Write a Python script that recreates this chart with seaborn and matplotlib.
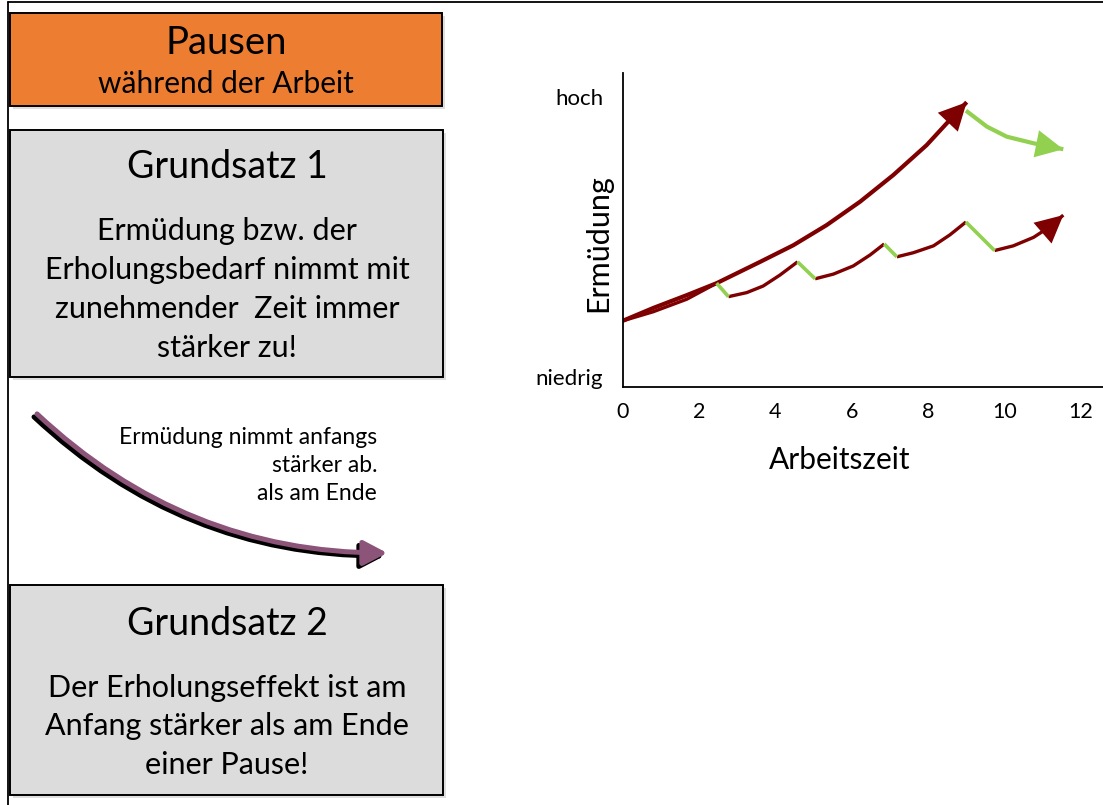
import seaborn as sns
from matplotlib import pyplot as plt
from matplotlib.patches import Rectangle, FancyArrowPatch

# Ermüdung ohne Pause (durchgehende Arbeit)
ohne_pause_x = [0.0, 0.80, 1.68, 2.46, 3.60, 4.47, 5.34, 6.22, 7.09, 7.96, 8.49, 9.01]
ohne_pause_y = [2.10, 2.51, 2.92, 3.30, 3.98, 4.51, 5.15, 5.90, 6.75, 7.70, 8.40, 9.07]

# Erholung nach langer Arbeit (eine späte Pause)
spaete_pause_x = [8.99, 9.54, 10.06, 10.76, 11.54]
spaete_pause_y = [8.80, 8.29, 7.97, 7.76, 7.57]

# mit Kurzpausen: Arbeitsabschnitte
arbeit_1_x = [0.0, 0.80, 1.68, 2.46]
arbeit_1_y = [2.10, 2.39, 2.79, 3.30]
arbeit_2_x = [2.77, 3.25, 3.68, 4.12, 4.58]
arbeit_2_y = [2.87, 3.00, 3.21, 3.56, 3.98]
arbeit_3_x = [5.04, 5.52, 6.04, 6.48, 6.85]
arbeit_3_y = [3.44, 3.59, 3.85, 4.20, 4.55]
arbeit_4_x = [7.18, 7.61, 8.14, 8.57, 8.99]
arbeit_4_y = [4.14, 4.27, 4.49, 4.84, 5.25]
arbeit_5_x = [9.74, 10.23, 10.76, 11.19, 11.54]
arbeit_5_y = [4.34, 4.49, 4.76, 5.10, 5.47]

# Kurzpausen (Erholung)
pause_x = [[2.46, 2.77], [4.58, 5.04], [6.85, 7.18], [8.99, 9.74]]
pause_y = [[3.30, 2.87], [3.98, 3.44], [4.55, 4.14], [5.25, 4.34]]

x_ticks = [0, 2, 4, 6, 8, 10, 12]
y_tick_pos = [0.31, 9.23]
y_tick_labels = ["niedrig", "hoch"]

RED = "#7f0000"
GREEN = "#92d050"
ORANGE = "#ed7d31"
GRAY = "#dcdcdc"
PURPLE = "#8c5478"

sns.set_style("white")
plt.rcParams["font.family"] = ["Lato", "DejaVu Sans"]
plt.rcParams["text.color"] = "black"
plt.rcParams["axes.labelcolor"] = "black"
plt.rcParams["xtick.color"] = "black"
plt.rcParams["ytick.color"] = "black"

fig = plt.figure(figsize=(11.03, 8.05), dpi=100)

# linke Seite: Textkästen, in Pixelkoordinaten
bg = fig.add_axes([0, 0, 1, 1], zorder=0)
bg.set_xlim(0, 1103)
bg.set_ylim(805, 0)
bg.axis("off")

bg.plot([8, 8], [2, 805], color="black", lw=1.3)
bg.plot([8, 1103], [2, 2], color="black", lw=1.3)


def box(x0, y0, w, h, color):
    bg.add_patch(Rectangle((x0 + 3, y0 + 3), w, h, color="#c8c8c8", alpha=0.6, lw=0))
    bg.add_patch(Rectangle((x0, y0), w, h, facecolor=color, edgecolor="black", lw=1.4))


box(10, 13, 432, 93, ORANGE)
box(10, 130, 433, 247, GRAY)
box(10, 585, 433, 210, GRAY)

bg.text(226, 43, "Pausen", fontsize=27.5, ha="center", va="center")
bg.text(226, 84, "während der Arbeit", fontsize=21.5, ha="center", va="center")

bg.text(227, 167, "Grundsatz 1", fontsize=27, ha="center", va="center")
for txt, yy in [("Ermüdung bzw. der", 231), ("Erholungsbedarf nimmt mit", 270),
                ("zunehmender  Zeit immer", 309), ("stärker zu!", 348)]:
    bg.text(227, yy, txt, fontsize=22, ha="center", va="center")

bg.text(227, 624, "Grundsatz 2", fontsize=27, ha="center", va="center")
for txt, yy in [("Der Erholungseffekt ist am", 688), ("Anfang stärker als am Ende", 726),
                ("einer Pause!", 765)]:
    bg.text(227, yy, txt, fontsize=22, ha="center", va="center")

for txt, yy in [("Ermüdung nimmt anfangs", 437), ("stärker ab.", 465), ("als am Ende", 493)]:
    bg.text(377, yy, txt, fontsize=16.5, ha="right", va="center")

# gebogener Pfeil mit Schatten
for (dx, dy, col) in [(-3, 3, "black"), (0, 0, PURPLE)]:
    bg.add_patch(FancyArrowPatch(
        (35 + dx, 412 + dy), (390 + dx, 553 + dy),
        connectionstyle="arc3,rad=0.2",
        arrowstyle="-|>,head_length=0.8,head_width=0.42",
        mutation_scale=18, color=col, lw=3.6,
    ))

# rechte Seite: Diagramm
ax = fig.add_axes([622.7 / 1103, 1 - 386.7 / 805, 1 - 622.7 / 1103, 313.7 / 805], zorder=1)
ax.patch.set_alpha(0)


def line(xs, ys, color, lw, arrow=False):
    sns.lineplot(x=xs, y=ys, ax=ax, color=color, lw=lw, sort=False, estimator=None,
                 solid_capstyle="butt", solid_joinstyle="round")
    if arrow:
        ax.annotate("", xy=(xs[-1], ys[-1]), xytext=(xs[-2], ys[-2]),
                    arrowprops=dict(arrowstyle="-|>,head_length=0.9,head_width=0.45",
                                    mutation_scale=22, color=color, lw=0,
                                    shrinkA=0, shrinkB=0))


line(ohne_pause_x, ohne_pause_y, RED, 3.0, arrow=True)
line(spaete_pause_x, spaete_pause_y, GREEN, 3.0, arrow=True)
for xs, ys in [(arbeit_1_x, arbeit_1_y), (arbeit_2_x, arbeit_2_y),
               (arbeit_3_x, arbeit_3_y), (arbeit_4_x, arbeit_4_y)]:
    line(xs, ys, RED, 2.4)
line(arbeit_5_x, arbeit_5_y, RED, 2.4, arrow=True)
for xs, ys in zip(pause_x, pause_y):
    line(xs, ys, GREEN, 2.6)

ax.set_xlim(0, 12.58)
ax.set_ylim(0, 10)
ax.set_xticks(x_ticks)
ax.set_yticks(y_tick_pos, y_tick_labels)
ax.tick_params(axis="x", length=7, width=1.3, direction="out", labelsize=15.5, pad=4)
ax.tick_params(axis="y", length=0, labelsize=16, pad=14)
for side in ["top", "right"]:
    ax.spines[side].set_visible(False)
for side in ["left", "bottom"]:
    ax.spines[side].set_color("black")
    ax.spines[side].set_linewidth(1.3)

ax.set_xlabel("Arbeitszeit", fontsize=21.5)
ax.set_ylabel("Ermüdung", fontsize=22)
ax.xaxis.set_label_coords(0.452, -0.19)
ax.yaxis.set_label_coords(-0.022, 0.458)

fig.savefig("out.png", dpi=100)
